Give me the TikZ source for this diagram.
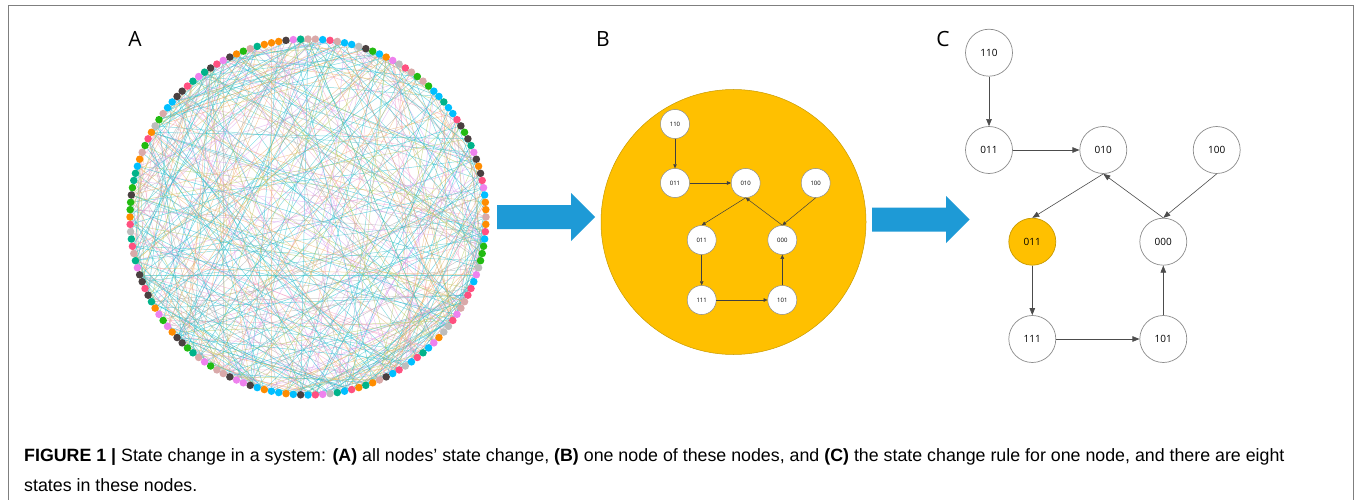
\documentclass[tikz,border=0pt]{standalone}
\usepackage{fontspec}
\setmainfont{Liberation Sans}
\newfontfamily\lblfont{Open Sans}
\usetikzlibrary{arrows.meta}

\definecolor{framegray}{HTML}{7F7F7F}
\definecolor{gold}{HTML}{FFC000}
\definecolor{goldline}{HTML}{C89A00}
\definecolor{flowblue}{HTML}{1E9AD6}
\definecolor{ringgray}{HTML}{8C8C8C}
% colours of the ring dots
\definecolor{dc1}{HTML}{EE82EE}
\definecolor{dc2}{HTML}{00BFFF}
\definecolor{dc3}{HTML}{22BB11}
\definecolor{dc4}{HTML}{4A4040}
\definecolor{dc5}{HTML}{BDBDBD}
\definecolor{dc6}{HTML}{00B38A}
\definecolor{dc7}{HTML}{FF8C00}
\definecolor{dc8}{HTML}{D9A9A9}
\definecolor{dc9}{HTML}{FF5080}
% colours of the chords
\definecolor{lc1}{HTML}{1CC0CF}
\definecolor{lc2}{HTML}{1CB8D0}
\definecolor{lc3}{HTML}{B3C85E}
\definecolor{lc4}{HTML}{EDB06A}
\definecolor{lc5}{HTML}{F29CC2}
\definecolor{lc6}{HTML}{D8A2F0}
\definecolor{lc7}{HTML}{A8A8A8}
\definecolor{lc8}{HTML}{3CC3C8}

\tikzset{
  chord/.style={line width=0.5pt, opacity=0.6},
  dot/.style={circle, inner sep=0pt, minimum size=7.5pt, draw=none},
  panelletter/.style={font=\lblfont\fontsize{21}{21}\selectfont, anchor=base, inner sep=0pt},
  bstate/.style={circle, draw=ringgray, line width=0.5pt, fill=white, inner sep=0pt,
    minimum size=29pt, font=\lblfont\fontsize{6}{6}\selectfont},
  bedge/.style={draw=black!75, line width=0.5pt, -{Triangle[length=4pt,width=3.5pt]}},
  cstate/.style={circle, draw=ringgray, line width=0.7pt, fill=white, inner sep=0pt,
    minimum size=47pt, font=\lblfont\fontsize{10}{10}\selectfont},
  cedge/.style={draw=black!70, line width=0.6pt, -{Triangle[length=7pt,width=5.5pt]}},
  flow/.style={fill=flowblue, draw=none},
  caption/.style={anchor=base west, inner sep=0pt, font=\fontsize{17.8}{17.8}\selectfont},
}

\begin{document}
\begin{tikzpicture}[x=1pt, y=-1pt]
\useasboundingbox (0,0) rectangle (1356,500);

% frame, open at the bottom
\draw[framegray, line width=1pt] (8,500) -- (8,6) -- (1353,6) -- (1353,500);

% ---------- panel A: ring network ----------
\foreach \i in {0,...,151}
  \coordinate (p\i) at ({308+178*cos(\i*2.368421)},{217+178*sin(\i*2.368421)});

\pgfmathsetseed{20}
\foreach \k in {1,...,480}{
  \pgfmathtruncatemacro\u{random(0,151)}
  \pgfmathtruncatemacro\v{random(0,151)}
  \pgfmathtruncatemacro\c{random(1,8)}
  \draw[chord, lc\c] (p\u) -- (p\v);
}
\foreach \i in {0,...,151}{
  \pgfmathtruncatemacro\c{random(1,9)}
  \node[dot, fill=dc\c] (d\i) at (p\i) {};
}
\node[panelletter] (labA) at (135,47) {A};

% block arrow A -> B
\fill[flow] (497,205) -- (571,205) -- (571,193) -- (595,217) -- (571,241)
  -- (571,229) -- (497,229) -- cycle;

% ---------- panel B: one node ----------
\node[panelletter] (labB) at (603,47) {B};
\node[circle, fill=gold, draw=goldline, line width=0.5pt, minimum size=265pt, inner sep=0pt]
  (disc) at (733.5,222) {};

\node[bstate] (b110)  at (675,124)   {110};
\node[bstate] (b011)  at (675,183)   {011};
\node[bstate] (b010)  at (745.7,183) {010};
\node[bstate] (b100)  at (815.7,183) {100};
\node[bstate] (b011s) at (701.7,240) {011};
\node[bstate] (b000)  at (782.3,240) {000};
\node[bstate] (b111)  at (701.7,300) {111};
\node[bstate] (b101)  at (782.3,300) {101};

\draw[bedge] (b110.south) -- (b011.north);
\draw[bedge] (b011.east) -- (b010.west);
\draw[bedge] (b010.south) -- (b011s.north);
\draw[bedge] (b100.south) -- (b000.north);
\draw[bedge] (b000.north) -- (b010.south);
\draw[bedge] (b011s.south) -- (b111.north);
\draw[bedge] (b111.east) -- (b101.west);
\draw[bedge] (b101.north) -- (b000.south);

% block arrow B -> C
\fill[flow] (872,207.5) -- (946,207.5) -- (946,196) -- (969.5,219.5) -- (946,243)
  -- (946,231.5) -- (872,231.5) -- cycle;

% ---------- panel C: state change rule ----------
\node[panelletter] (labC) at (943,47) {C};

\node[cstate] (c110)  at (989,52.7)    {110};
\node[cstate] (c011)  at (989,150)     {011};
\node[cstate] (c010)  at (1103.3,150)  {010};
\node[cstate] (c100)  at (1216.7,150)  {100};
\node[cstate, fill=gold, draw=goldline] (c011s) at (1032.3,241.7) {011};
\node[cstate] (c000)  at (1163.3,241.7) {000};
\node[cstate] (c111)  at (1032.3,339)  {111};
\node[cstate] (c101)  at (1163.3,339)  {101};

\draw[cedge] (c110.south) -- (c011.north);
\draw[cedge] (c011.east) -- (c010.west);
\draw[cedge] (c010.south) -- (c011s.north);
\draw[cedge] (c100.south) -- (c000.north);
\draw[cedge] (c000.north) -- (c010.south);
\draw[cedge] (c011s.south) -- (c111.north);
\draw[cedge] (c111.east) -- (c101.west);
\draw[cedge] (c101.north) -- (c000.south);

% ---------- caption ----------
\node[caption] (cap1) at (24,461) {\textbf{FIGURE 1 |} State change in a system: \textbf{(A)} all nodes’ state change, \textbf{(B)} one node of these nodes, and \textbf{(C)} the state change rule for one node, and there are eight};
\node[caption] (cap2) at (24,491) {states in these nodes.};
\end{tikzpicture}
\end{document}
